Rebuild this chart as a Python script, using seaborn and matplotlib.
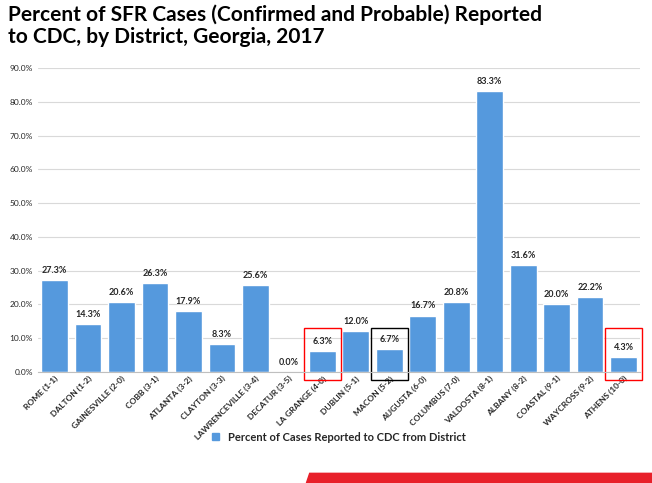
import matplotlib
matplotlib.use("Agg")
import matplotlib.pyplot as plt
import matplotlib.patches as mpatches
import seaborn as sns
import pandas as pd

districts = ["ROME (1-1)", "DALTON (1-2)", "GAINESVILLE (2-0)", "COBB (3-1)", "ATLANTA (3-2)",
             "CLAYTON (3-3)", "LAWRENCEVILLE (3-4)", "DECATUR (3-5)", "LA GRANGE (4-0)",
             "DUBLIN (5-1)", "MACON (5-2)", "AUGUSTA (6-0)", "COLUMBUS (7-0)", "VALDOSTA (8-1)",
             "ALBANY (8-2)", "COASTAL (9-1)", "WAYCROSS (9-2)", "ATHENS (10-0)"]
pct = [27.3, 14.3, 20.6, 26.3, 17.9, 8.3, 25.6, 0.0, 6.3, 12.0, 6.7, 16.7, 20.8, 83.3,
       31.6, 20.0, 22.2, 4.3]
boxed = {"LA GRANGE (4-0)": "red", "MACON (5-2)": "black", "ATHENS (10-0)": "red"}

df = pd.DataFrame({"district": districts, "pct": pct})

sns.set_style("white")
plt.rcParams['font.family'] = ['Lato', 'DejaVu Sans']
fig = plt.figure(figsize=(6.52, 4.83), dpi=100)
ax = fig.add_axes([0.058, 0.230, 0.924, 0.629])
sns.barplot(data=df, x="district", y="pct", color="#5599DD", saturation=1, width=0.8, ax=ax)

ax.set_ylim(0, 90)
ax.set_yticks(range(0, 91, 10))
ax.set_yticklabels([f"{v:.1f}%" for v in range(0, 91, 10)], fontsize=6)
ax.yaxis.grid(True, color="#d9d9d9", lw=0.8)
ax.set_axisbelow(True)
for s in ["top", "right", "left"]:
    ax.spines[s].set_visible(False)
ax.spines["bottom"].set_color("#bfbfbf")
ax.set_xlabel("")
ax.set_ylabel("")
ax.tick_params(axis="x", length=0, pad=2)
plt.setp(ax.get_xticklabels(), rotation=45, ha="right", rotation_mode="anchor",
         fontsize=6, fontweight="bold")
ax.tick_params(axis="y", length=0)

for i, v in enumerate(pct):
    ax.text(i, v + 1.5, f"{v:.1f}%", ha="center", va="bottom", fontsize=6.5, fontweight="bold")
    if districts[i] in boxed:
        ax.add_patch(mpatches.Rectangle((i - 0.55, -2.5), 1.1, 15.5, fill=False,
                                        edgecolor=boxed[districts[i]], lw=1, clip_on=False))

fig.text(0.012, 0.99, "Percent of SFR Cases (Confirmed and Probable) Reported\nto CDC, by District, Georgia, 2017",
         ha="left", va="top", fontsize=15, fontweight="bold", linespacing=1.1, color="black")

handle = mpatches.Patch(color="#5599DD", label="Percent of Cases Reported to CDC from District")
fig.legend(handles=[handle], loc="center", bbox_to_anchor=(0.52, 0.095), frameon=False,
           handlelength=0.6, handleheight=0.6,
           prop={"weight": "bold", "size": 8})

fig.patches.append(mpatches.Polygon([[0.47, 0.0], [0.475, 0.02], [1.0, 0.02], [1.0, 0.0]],
                                    closed=True, color="#E8202A", transform=fig.transFigure))

fig.savefig("out.png", dpi=100)
